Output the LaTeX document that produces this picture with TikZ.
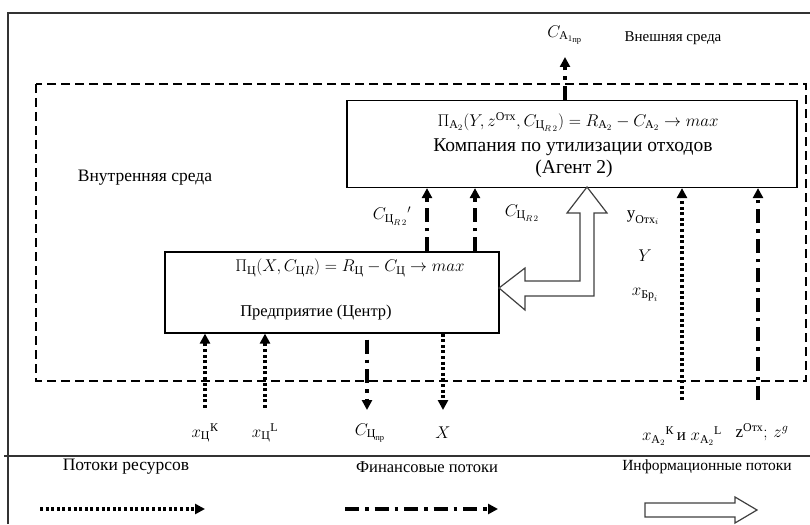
\RequirePackage{fix-cm}
\documentclass[tikz,border=0pt]{standalone}
\usepackage{amsmath}
\usepackage{fontspec}
\setmainfont{Liberation Serif}
\newfontfamily\serifcy{Liberation Serif}
\usetikzlibrary{arrows.meta}
\newcommand\cy[1]{\text{\serifcy #1}}
\begin{document}
\begin{tikzpicture}[x=1pt,y=-1pt,
  frame/.style={draw=black!80,line width=1.3pt},
  env/.style={draw,line width=1.3pt,dash pattern=on 9pt off 5pt},
  agentbox/.style={draw,line width=1.2pt,inner sep=0pt},
  lbl/.style={inner sep=1pt,font=\serifcy\fontsize{17}{20}\selectfont},
  txt/.style={inner sep=1pt,font=\serifcy\fontsize{16.5}{20}\selectfont},
  res/.style={line width=3.2pt,dash pattern=on 3pt off 2.6pt,-{Triangle[length=10pt,width=10pt]}},
  fin/.style={line width=3.6pt,dash pattern=on 14pt off 6pt on 3.5pt off 6pt,-{Triangle[length=10pt,width=10pt]}},
  info/.style={draw=black!75,line width=1.2pt,fill=white,line join=miter}
]
\useasboundingbox (0,0) rectangle (810,524);
% frame
\draw[frame] (8,524) -- (8,13) -- (810,13);
\draw[frame] (4,456) -- (810,456);
% environment
\draw[env] (36,84) rectangle (806,381);
\node[txt,font=\serifcy\fontsize{15}{18}\selectfont] (ext) at (673,38) {Внешняя среда};
\node[txt,font=\serifcy\fontsize{17.5}{20}\selectfont] (int) at (145,178) {Внутренняя среда};
% boxes
\node[agentbox,minimum width=450pt,minimum height=87pt] (agent) at (572,144) {};
\node[txt,font=\serifcy\fontsize{17}{20}\selectfont] (agl1) at (578,122) {$\Pi_{\mathrm{A}_2}(Y, z^{\cy{Отх}}, C_{\cy{Ц}_{R\,2}}) = R_{\mathrm{A}_2} - C_{\mathrm{A}_2} \to max$};
\node[txt,font=\serifcy\fontsize{19.5}{22}\selectfont] (agl2) at (573,147) {Компания по утилизации отходов};
\node[txt,font=\serifcy\fontsize{19.5}{22}\selectfont] (agl3) at (574,169) {(Агент 2)};
\node[agentbox,minimum width=334pt,minimum height=81pt] (centre) at (332,292.5) {};
\node[txt,font=\serifcy\fontsize{17}{20}\selectfont] (cel1) at (350,268) {$\Pi_{\cy{Ц}}(X, C_{\cy{Ц}R}) = R_{\cy{Ц}} - C_{\cy{Ц}} \to max$};
\node[txt] (cel2) at (316,313) {Предприятие (Центр)};
% top outflow
\coordinate (caend) at (565,57);
\draw[fin] (agent.north -| caend) -- (caend);
\node[lbl] (ca) at (565,35) {$C_{\mathrm{A}_{1_{\cy{пр}}}}$};
% centre to agent financial
\draw[fin] (centre.north -| 427,0) -- (agent.south -| 427,0);
\draw[fin] (centre.north -| 475,0) -- (agent.south -| 475,0);
\node[lbl] (cr2p) at (392,216) {$C_{\cy{Ц}_{R\,2}}{}'$};
\node[lbl] (cr2) at (522,213) {$C_{\cy{Ц}_{R\,2}}$};
% information two-headed arrow
\draw[info] (587,187) -- (607,213) -- (594,213) -- (594,296) -- (525,296) -- (525,310)
  -- (499,288) -- (525,268) -- (525,281) -- (580,281) -- (580,213) -- (567,213) -- cycle;
% Y labels
\node[lbl] (yotx) at (643,218) {$\cy{у}_{\cy{Отх}_i}$};
\node[lbl] (Y) at (645,256) {$Y$};
\node[lbl] (xbr) at (645,295) {$x_{\cy{Бр}_i}$};
% inputs to centre
\coordinate (xk0) at (205,408);
\coordinate (xl0) at (265,408);
\draw[res] (xk0) -- (xk0 |- centre.south);
\draw[res] (xl0) -- (xl0 |- centre.south);
\node[lbl] (xk) at (205,433) {$x_{\cy{Ц}}{}^{\cy{К}}$};
\node[lbl] (xl) at (265,433) {$x_{\cy{Ц}}{}^{\cy{L}}$};
% outputs from centre
\coordinate (cpr1) at (367,410);
\coordinate (x1) at (443,410);
\draw[fin] (cpr1 |- centre.south) ++(0,6) -- (cpr1);
\draw[res] (x1 |- centre.south) -- (x1);
\node[lbl] (cpr) at (370,433) {$C_{\cy{Ц}_{\cy{пр}}}$};
\node[lbl] (X) at (443,433) {$X$};
% inputs to agent
\coordinate (xa0) at (682,400);
\coordinate (z0) at (758,400);
\draw[res] (xa0) -- (xa0 |- agent.south);
\draw[fin] (z0) -- (z0 |- agent.south);
\node[lbl] (xa) at (682,436) {$x_{\mathrm{A}_2}{}^{\cy{К}}\,\cy{и}\; x_{\mathrm{A}_2}{}^{\cy{L}}$};
\node[lbl] (z) at (762,432) {$\cy{z}^{\cy{Отх}};\, z^{g}$};
% legend
\node[txt,font=\serifcy\fontsize{17.5}{20}\selectfont] (lres) at (126,467) {Потоки ресурсов};
\node[txt] (lfin) at (427,467) {Финансовые потоки};
\node[txt,font=\serifcy\fontsize{15.5}{18}\selectfont] (linf) at (707,467) {Информационные потоки};
\coordinate (lr0) at (40,509); \coordinate (lr1) at (205,509);
\draw[res] (lr0) -- (lr1);
\coordinate (lf0) at (345,509); \coordinate (lf1) at (498,509);
\draw[fin] (lf0) -- (lf1);
\draw[info] (645,503) -- (735,503) -- (735,497) -- (757,510) -- (735,523) -- (735,517) -- (645,517) -- cycle;
\end{tikzpicture}
\end{document}
